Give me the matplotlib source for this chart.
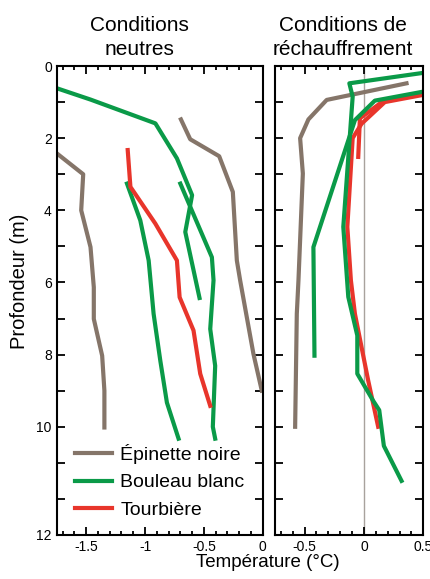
import numpy as np
import matplotlib
matplotlib.use("Agg")
import matplotlib.pyplot as plt
from matplotlib.ticker import MultipleLocator, FixedLocator

plt.rcParams['font.family'] = ['Liberation Sans', 'DejaVu Sans']
plt.rcParams['axes.unicode_minus'] = False

# --- Conditions neutres (temp en °C, profondeur en m)
epi_n1_t = [-1.746, -1.525, -1.542, -1.463, -1.435, -1.435, -1.364, -1.345, -1.345]
epi_n1_d = [2.43, 3.0, 4.0, 5.02, 6.13, 7.01, 8.03, 9.0, 10.02]
epi_n2_t = [-0.695, -0.616, -0.37, -0.254, -0.22, -0.192, -0.079, -0.008]
epi_n2_d = [1.48, 2.03, 2.5, 3.49, 5.39, 5.94, 7.98, 9.0]
bou_n1_t = [-1.746, -1.463, -0.912, -0.729, -0.60, -0.658, -0.537]
bou_n1_d = [0.62, 0.93, 1.59, 2.56, 3.58, 4.6, 6.43]
bou_n2_t = [-0.70, -0.432, -0.418, -0.446, -0.404, -0.424, -0.404]
bou_n2_d = [3.26, 5.3, 5.94, 7.29, 8.31, 10.0, 10.33]
bou_n3_t = [-1.153, -1.04, -0.969, -0.927, -0.87, -0.814, -0.715]
bou_n3_d = [3.26, 4.28, 5.39, 6.87, 8.17, 9.33, 10.33]
tou_n_t = [-1.147, -1.124, -0.912, -0.729, -0.706, -0.588, -0.531, -0.446]
tou_n_d = [2.33, 3.35, 4.37, 5.39, 6.41, 7.33, 8.53, 9.42]

# --- Conditions de réchauffement
epi_r_t = [0.359, -0.314, -0.468, -0.538, -0.515, -0.552, -0.566, -0.58]
epi_r_d = [0.48, 0.94, 1.48, 2.0, 2.98, 5.94, 6.87, 10.0]
bou_r1_t = [0.5, -0.123, -0.095, -0.174, -0.132, -0.056, -0.056, 0.078, 0.129, 0.168, 0.317]
bou_r1_d = [0.19, 0.48, 0.85, 4.46, 6.4, 7.47, 8.53, 9.28, 9.54, 10.53, 11.5]
bou_r2_t = [0.5, 0.092, -0.076, -0.426, -0.417]
bou_r2_d = [0.71, 0.96, 1.5, 5.02, 8.03]
tou_r1_t = [0.5, 0.176, -0.034, -0.048]
tou_r1_d = [0.76, 0.94, 1.45, 2.52]
tou_r2_t = [0.5, 0.176, -0.02, -0.095, -0.14, -0.11, -0.076, 0.036, 0.12]
tou_r2_d = [0.8, 1.0, 1.6, 2.0, 4.46, 5.94, 6.87, 8.72, 10.0]

brown = '#857569'
green = '#0a9a48'
red = '#e8352b'
lw = 3.0

fig = plt.figure(figsize=(4.31, 5.79), dpi=100)
ax1 = fig.add_axes([0.1316, 0.076, 0.478, 0.810])
ax2 = fig.add_axes([0.638, 0.076, 0.344, 0.810])

ax1.plot(epi_n1_t, epi_n1_d, color=brown, lw=lw, label='Épinette noire')
ax1.plot(epi_n2_t, epi_n2_d, color=brown, lw=lw)
ax1.plot(bou_n1_t, bou_n1_d, color=green, lw=lw, label='Bouleau blanc')
ax1.plot(bou_n2_t, bou_n2_d, color=green, lw=lw)
ax1.plot(bou_n3_t, bou_n3_d, color=green, lw=lw)
ax1.plot(tou_n_t, tou_n_d, color=red, lw=lw, label='Tourbière')

ax2.axvline(0, color='#a8a29d', lw=1.0, zorder=0)
ax2.plot(epi_r_t, epi_r_d, color=brown, lw=lw)
ax2.plot(tou_r1_t, tou_r1_d, color=red, lw=lw)
ax2.plot(tou_r2_t, tou_r2_d, color=red, lw=lw)
ax2.plot(bou_r1_t, bou_r1_d, color=green, lw=lw)
ax2.plot(bou_r2_t, bou_r2_d, color=green, lw=lw)

ax1.set_xlim(-1.75, 0)
ax2.set_xlim(-0.75, 0.5)
for ax in (ax1, ax2):
    ax.set_ylim(13, 0)
    ax.xaxis.set_major_locator(MultipleLocator(0.5))
    ax.xaxis.set_minor_locator(MultipleLocator(0.1))
    ax.yaxis.set_major_locator(FixedLocator([0, 2, 4, 6, 8, 10, 13]))
    ax.yaxis.set_minor_locator(MultipleLocator(1))
    ax.tick_params(which='both', direction='in', top=True, right=True,
                   width=1.3, labelsize=10)
    ax.tick_params(axis='x', which='major', length=6)
    ax.tick_params(axis='x', which='minor', length=3)
    ax.tick_params(axis='y', which='both', length=5.5)
    for s in ax.spines.values():
        s.set_linewidth(1.5)

ax1.set_yticklabels(['0', '2', '4', '6', '8', '10', '12'])
ax1.set_xticks([-1.5, -1, -0.5, 0])
ax1.set_xticklabels(['-1.5', '-1', '-0.5', '0'])
ax2.set_xticks([-0.5, 0, 0.5])
ax2.set_xticklabels(['-0.5', '0', '0.5'])
ax2.set_yticklabels([])

ax1.text(0.40, 1.015, 'Conditions\nneutres', transform=ax1.transAxes,
         ha='center', va='bottom', fontsize=15, linespacing=1.3)
ax2.text(0.46, 1.015, 'Conditions de\nréchauffrement', transform=ax2.transAxes,
         ha='center', va='bottom', fontsize=15, linespacing=1.3)

fig.text(0.046, 0.515, 'Profondeur (m)', rotation=90, ha='center', va='center', fontsize=14.5)
fig.text(0.622, 0.029, 'Température (°C)', ha='center', va='center', fontsize=13.5)

ax1.legend(loc='lower left', bbox_to_anchor=(0.03, 0.01), frameon=False,
           fontsize=14, handlelength=1.9, handletextpad=0.45, labelspacing=0.5,
           borderaxespad=0.2)

fig.savefig('out.png', dpi=100)
